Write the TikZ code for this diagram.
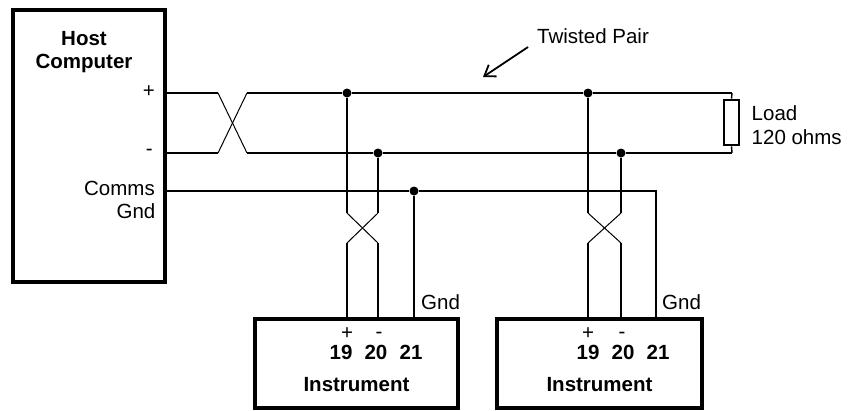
\documentclass[tikz,border=0pt]{standalone}
\usepackage{fontspec}
\setmainfont{Liberation Sans}
\usetikzlibrary{arrows.meta}
\begin{document}
\begin{tikzpicture}[x=1pt,y=-1pt,
	wire/.style={line width=2pt},
	twist/.style={line width=1pt},
	box/.style={draw,line width=3.2pt,outer sep=0pt,inner sep=0pt,anchor=north west},
	junction/.style={circle,fill,inner sep=0pt,minimum size=9pt},
	lbl/.style={inner sep=0pt,font=\fontsize{20.5}{24}\selectfont},
	blbl/.style={inner sep=0pt,font=\fontsize{20.5}{24}\selectfont\bfseries},
	>={Straight Barb[length=10pt,width=14pt]}]
		\useasboundingbox (0,0) rectangle (852,410);
		% boxes
		\node[box,minimum width=152pt,minimum height=272pt] (host) at (13,10) {};
		\node[box,minimum width=203pt,minimum height=89pt] (inst1) at (255,319) {};
		\node[box,minimum width=205pt,minimum height=89pt] (inst2) at (497,319) {};
		\node[draw,line width=2.6pt,inner sep=0pt,minimum width=15pt,minimum height=45pt] (load) at (731.5,122.5) {};
		\coordinate (hp) at (host.north east |- 0,93);
		\coordinate (hm) at (host.north east |- 0,153);
		\coordinate (hg) at (host.north east |- 0,191);
		\coordinate (lp) at (732,93);
		\coordinate (lm) at (732,153);
		\coordinate (gc) at (656,191);
		\node[junction] (j1p) at (347,93) {};
		\node[junction] (j1m) at (378,153) {};
		\node[junction] (j1g) at (414,191) {};
		\node[junction] (j2p) at (588,93) {};
		\node[junction] (j2m) at (621,153) {};
		% bus
		\draw[wire] (hp) -- (218,93);
		\draw[twist] (218,93) -- (247,153);
		\draw[wire] (247,153) -- (j1m) -- (j2m) -- (lm);
		\draw[wire] (hm) -- (218,153);
		\draw[twist] (218,153) -- (247,93);
		\draw[wire] (247,93) -- (j1p) -- (j2p) -- (lp);
		\draw[line width=1.4pt] (lp) -- (load.north);
		\draw[line width=1.4pt] (lm) -- (load.south);
		\draw[wire] (hg) -- (j1g) -- (gc) -- (gc |- inst2.north);
		\draw[wire] (j1g) -- (j1g |- inst1.north);
		% drops
		\draw[wire] (j1p) -- (347,213);
		\draw[wire] (j1m) -- (378,213);
		\draw[twist] (347,213) -- (378,243);
		\draw[twist] (378,213) -- (347,243);
		\draw[wire] (347,243) -- (347,319);
		\draw[wire] (378,243) -- (378,319);
		\draw[wire] (j2p) -- (588,213);
		\draw[wire] (j2m) -- (621,213);
		\draw[twist] (588,213) -- (621,243);
		\draw[twist] (621,213) -- (588,243);
		\draw[wire] (588,243) -- (588,319);
		\draw[wire] (621,243) -- (621,319);
		% labels
		\node[blbl,anchor=base] (hostname) at (84,45) {Host};
		\node[blbl,anchor=base] (hostname2) at (84,68) {Computer};
		\node[lbl,anchor=base east] (hplus) at (155,97) {+};
		\node[lbl,anchor=base east] (hminus) at (153,155) {-};
		\node[lbl,anchor=base east] (hcomms) at (155,195) {Comms};
		\node[lbl,anchor=base east] (hgnd) at (155.5,218) {Gnd};
		\node[lbl,anchor=base west] (tp) at (537,43) {Twisted Pair};
		\coordinate (tptip) at (483,77);
		\draw[->,line width=1.8pt] ([shift={(-9pt,-4pt)}]tp.base west) -- (tptip);
		\node[lbl,anchor=base west] (loadname) at (751.5,120) {Load};
		\node[lbl,anchor=base west] (loadval) at (751.5,144) {120 ohms};
		\node[lbl,anchor=base] (i1plus) at (347,339) {+};
		\node[lbl,anchor=base] (i1minus) at (379,338) {-};
		\node[blbl,anchor=base] (i1a) at (341,359) {19};
		\node[blbl,anchor=base] (i1b) at (376,359) {20};
		\node[blbl,anchor=base] (i1c) at (411,359) {21};
		\node[blbl,anchor=base] (i1name) at (inst1.center |- 0,391) {Instrument};
		\node[lbl,anchor=base west] (i1gnd) at (421,309) {Gnd};
		\node[lbl,anchor=base] (i2plus) at (588,339) {+};
		\node[lbl,anchor=base] (i2minus) at (622,338) {-};
		\node[blbl,anchor=base] (i2a) at (588,359) {19};
		\node[blbl,anchor=base] (i2b) at (623,359) {20};
		\node[blbl,anchor=base] (i2c) at (658,359) {21};
		\node[blbl,anchor=base] (i2name) at (inst2.center |- 0,391) {Instrument};
		\node[lbl,anchor=base west] (i2gnd) at (662,309) {Gnd};
		\end{tikzpicture}
\end{document}
